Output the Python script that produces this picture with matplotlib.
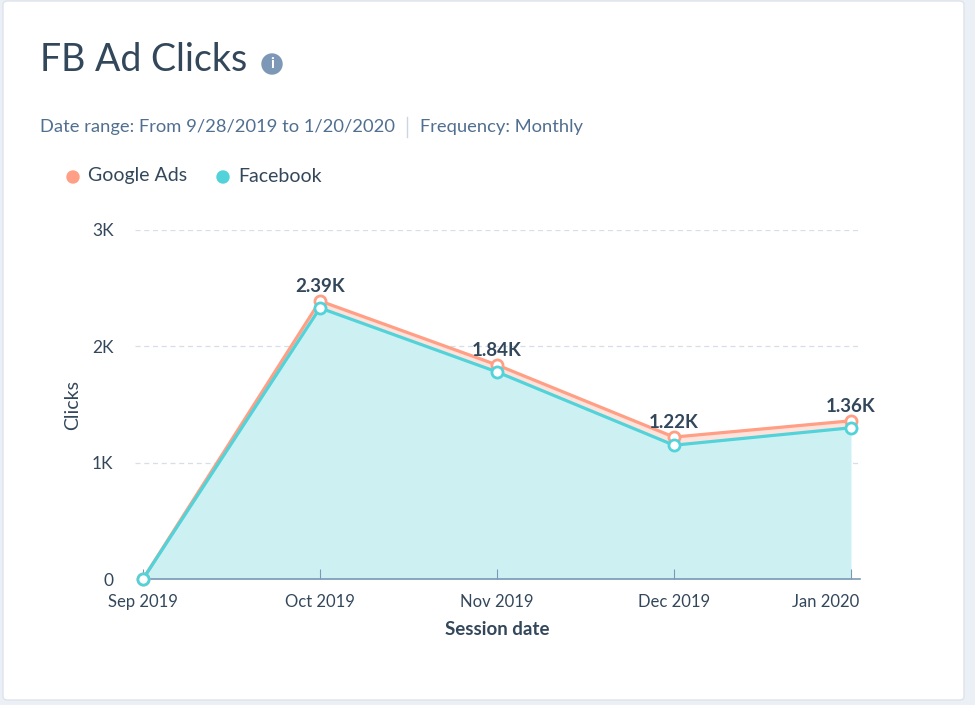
import numpy as np
import matplotlib.pyplot as plt
from matplotlib.patches import FancyBboxPatch, Ellipse
from matplotlib.lines import Line2D
from matplotlib.transforms import ScaledTranslation

plt.rcParams['font.family'] = ['Lato', 'DejaVu Sans']

months = ["Sep 2019", "Oct 2019", "Nov 2019", "Dec 2019", "Jan 2020"]
facebook = [0, 2330, 1780, 1150, 1300]
google_ads = [0, 60, 60, 70, 60]
total_labels = ["", "2.39K", "1.84K", "1.22K", "1.36K"]
y_ticks = [0, 1000, 2000, 3000]
y_tick_labels = ["0", "1K", "2K", "3K"]

dark = "#33475b"
teal = "#51d3d9"
salmon = "#ff9f85"

fig = plt.figure(figsize=(9.75, 7.05), dpi=100)
fig.patch.set_facecolor("#eaf0f6")

# white card
card = FancyBboxPatch((3 / 975, 5 / 705), 961 / 975, 699 / 705,
                      boxstyle="round,pad=0,rounding_size=0.005",
                      transform=fig.transFigure, facecolor="white",
                      edgecolor="#dfe3eb", linewidth=1, zorder=-5)
fig.patches.append(card)

x = np.arange(len(months))
fb = np.array(facebook)
tot = fb + np.array(google_ads)

ax = fig.add_axes([135 / 975, 1 - 579 / 705, 725 / 975, 349 / 705])
ax.set_zorder(2)
ax.set_facecolor("none")
ax.set_xlim(-8 / 177, 4 + 9 / 177)
ax.set_ylim(0, 3000)

ax.fill_between(x, 0, fb, color="#cdf1f3", lw=0, zorder=1)
ax.fill_between(x, fb, tot, color="#fde3dc", lw=0, zorder=1)
ax.plot(x, tot, color=salmon, lw=2.3, marker="o", ms=8, mfc="white",
        mec=salmon, mew=2, zorder=3, clip_on=False)
ax.plot(x, fb, color=teal, lw=2.3, marker="o", ms=8, mfc="white",
        mec=teal, mew=2, zorder=4, clip_on=False)

for xi, t, lab in zip(x, tot, total_labels):
    if lab:
        ax.annotate(lab, (xi, t), xytext=(0, 4.5), textcoords="offset points",
                    ha="center", va="bottom", fontsize=13.5, fontweight="bold",
                    color=dark, zorder=5)

ax.set_yticks(y_ticks)
ax.set_yticklabels(y_tick_labels)
for yv in y_ticks[1:]:
    ax.axhline(yv, color="#d6dfe8", lw=0.9, ls=(0, (4, 3)), zorder=0)

ax.set_xticks(x)
ax.set_xticklabels(months)
for s in ["top", "right", "left"]:
    ax.spines[s].set_visible(False)
ax.spines["bottom"].set_color("#7c98b6")
ax.spines["bottom"].set_linewidth(1.2)
ax.spines["bottom"].set_bounds(0, 4 + 9 / 177)
ax.tick_params(axis="x", direction="in", length=7, color="#7c98b6",
               labelsize=12, labelcolor=dark, pad=11)
ax.tick_params(axis="y", length=0, labelsize=12.5, labelcolor=dark, pad=15.5)

# last month label sits flush with the axis end
last = ax.get_xticklabels()[-1]
last.set_ha("right")
last.set_transform(last.get_transform() + ScaledTranslation(8 / 100, 0, fig.dpi_scale_trans))

ax.set_xlabel("Session date", fontsize=13.5, fontweight="bold", color=dark,
              labelpad=8)
ax.set_ylabel("Clicks", fontsize=14, color=dark, labelpad=8)

# title and header
fig.text(40 / 975, 1 - 60 / 705, "FB Ad Clicks", fontsize=27, fontweight="normal",
         color=dark, va="center", ha="left")
fig.patches.append(Ellipse((272 / 975, 1 - 64 / 705), 20 / 975, 20 / 705,
                           transform=fig.transFigure, color="#7c98b6"))
fig.text(272 / 975, 1 - 64.5 / 705, "i", fontsize=11, fontweight="bold",
         color="white", ha="center", va="center")

fig.text(40 / 975, 1 - 127 / 705, "Date range: From 9/28/2019 to 1/20/2020",
         fontsize=13.2, color="#516f90", va="center", ha="left")
fig.add_artist(Line2D([407 / 975, 407 / 975], [1 - 117 / 705, 1 - 137 / 705],
                      color="#cbd6e2", lw=1, transform=fig.transFigure))
fig.text(420 / 975, 1 - 127 / 705, "Frequency: Monthly",
         fontsize=13.2, color="#516f90", va="center", ha="left")

# legend
for cx, tx, col, name in [(73, 88, salmon, "Google Ads"), (223, 238, teal, "Facebook")]:
    fig.patches.append(Ellipse((cx / 975, 1 - 177 / 705), 12 / 975, 12 / 705,
                               transform=fig.transFigure, color=col))
    fig.text(tx / 975, 1 - 176 / 705, name, fontsize=14, color=dark,
             va="center", ha="left")

fig.savefig("out.png", dpi=100, facecolor=fig.get_facecolor())
